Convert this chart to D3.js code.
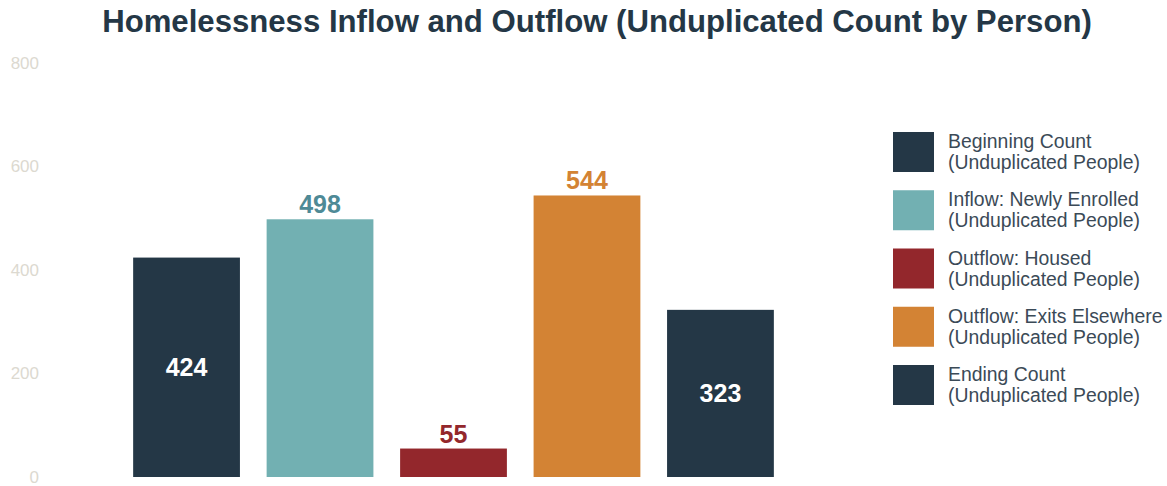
<!DOCTYPE html>
<html>
<head>
<meta charset="utf-8">
<script src="https://cdn.jsdelivr.net/npm/d3@7"></script>
<style>
  html, body { margin: 0; padding: 0; background: #ffffff; }
  svg { display: block; font-family: "Liberation Sans", Arial, sans-serif; }
</style>
</head>
<body>
<svg id="chart" width="1167" height="486"></svg>
<script>
const categories = ["Beginning Count", "Inflow: Newly Enrolled", "Outflow: Housed", "Outflow: Exits Elsewhere", "Ending Count"];
const legendLines = [
  ["Beginning Count", "(Unduplicated People)"],
  ["Inflow: Newly Enrolled", "(Unduplicated People)"],
  ["Outflow: Housed", "(Unduplicated People)"],
  ["Outflow: Exits Elsewhere", "(Unduplicated People)"],
  ["Ending Count", "(Unduplicated People)"]
];
const values = [424, 498, 55, 544, 323];
const colors = ["#243746", "#72b0b2", "#93272c", "#d38334", "#243746"];
const labelInside = [true, false, false, false, true];
const labelColors = ["#ffffff", "#4e8a96", "#93272c", "#d38334", "#ffffff"];
const yTicks = [0, 200, 400, 600, 800];
const title = "Homelessness Inflow and Outflow (Unduplicated Count by Person)";

const svg = d3.select("#chart");

const x = d3.scaleBand().domain(categories).range([119.8, 787.2]).paddingInner(0.2).paddingOuter(0.1);
const y = d3.scaleLinear().domain([0, 800]).range([477, 63]);

// Title
const t = svg.append("text")
  .attr("x", 597).attr("y", 32)
  .attr("text-anchor", "middle")
  .attr("font-weight", "bold")
  .attr("font-size", 29)
  .attr("fill", "#243746")
  .text(title);
const tw = t.node().getComputedTextLength();
t.attr("font-size", 29 * 990 / tw);

// Y axis (labels only)
const yAxis = d3.axisLeft(y).tickValues(yTicks).tickSize(0).tickPadding(0).tickFormat(d3.format("d"));
const ga = svg.append("g").attr("transform", "translate(39,0)").call(yAxis);
ga.select(".domain").remove();
ga.selectAll("text").attr("font-size", 17).attr("fill", "#dcd9d0")
  .attr("font-family", "'Liberation Sans', Arial, sans-serif");

// Bars
svg.append("g").selectAll("rect").data(values).join("rect")
  .attr("x", (d, i) => x(categories[i]))
  .attr("width", x.bandwidth())
  .attr("y", d => y(d))
  .attr("height", d => y(0) - y(d))
  .attr("fill", (d, i) => colors[i]);

// Value labels
svg.append("g").selectAll("text").data(values).join("text")
  .attr("x", (d, i) => x(categories[i]) + x.bandwidth() / 2)
  .attr("y", (d, i) => labelInside[i] ? (y(d) + y(0)) / 2 + 9 : y(d) - 6)
  .attr("text-anchor", "middle")
  .attr("font-weight", "bold")
  .attr("font-size", 25)
  .attr("fill", (d, i) => labelColors[i])
  .text(d => d);

// Legend
const lg = svg.append("g").attr("transform", "translate(893,132)");
const items = lg.selectAll("g").data(legendLines).join("g")
  .attr("transform", (d, i) => `translate(0,${i * 58.25})`);
items.append("rect").attr("width", 41).attr("height", 40).attr("fill", (d, i) => colors[i]);
items.append("text").attr("x", 55).attr("y", 16).attr("font-size", 19.4).attr("fill", "#3b4a57").text(d => d[0]);
items.append("text").attr("x", 55).attr("y", 37).attr("font-size", 19.4).attr("fill", "#3b4a57").text(d => d[1]);
</script>
</body>
</html>
